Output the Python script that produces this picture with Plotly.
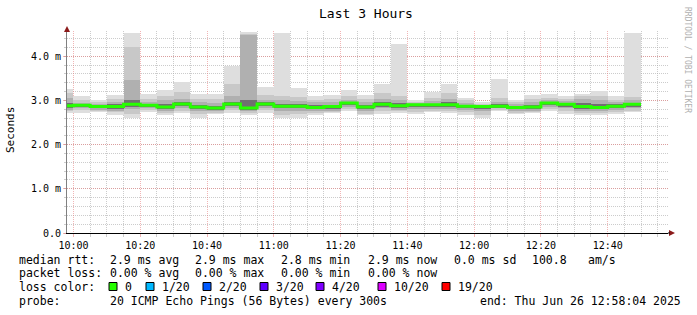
import plotly.graph_objects as go
from datetime import datetime, timedelta

DAY = "2025-06-26"
# 5-minute slot start times (HH:MM)
slot_start = ["09:55", "10:00", "10:05", "10:10", "10:15", "10:20", "10:25", "10:30", "10:35",
              "10:40", "10:45", "10:50", "10:55", "11:00", "11:05", "11:10", "11:15", "11:20",
              "11:25", "11:30", "11:35", "11:40", "11:45", "11:50", "11:55", "12:00", "12:05",
              "12:10", "12:15", "12:20", "12:25", "12:30", "12:35", "12:40", "12:45"]

# RTT distribution per slot (ms)
rtt_max = [3.25, 3.10, 3.02, 3.13, 4.53, 3.15, 3.23, 3.41, 3.15, 3.15, 3.77, 4.53, 3.31, 4.53, 3.29, 3.10, 3.13, 3.23,
           3.13, 3.36, 4.27, 3.02, 3.18, 3.36, 3.06, 2.95, 3.49, 3.02, 3.13, 3.15, 3.11, 3.15, 3.21, 3.09, 4.53]
rtt_p90 = [3.17, 3.00, 2.96, 3.04, 4.21, 3.03, 3.10, 3.20, 3.04, 3.03, 3.36, 4.52, 3.12, 3.10, 3.08, 3.02, 3.03, 3.10,
           3.03, 3.16, 3.10, 2.98, 3.05, 3.16, 3.00, 2.92, 3.06, 2.97, 3.03, 3.06, 3.04, 3.10, 3.10, 3.02, 3.08]
rtt_p75 = [3.05, 2.95, 2.92, 2.97, 3.47, 2.96, 3.00, 3.04, 2.96, 2.95, 3.10, 4.50, 3.01, 3.00, 2.98, 2.96, 2.96, 3.02,
           2.96, 3.03, 3.00, 2.95, 2.98, 3.04, 2.95, 2.90, 2.97, 2.92, 2.96, 3.01, 2.98, 3.04, 3.00, 2.96, 3.00]
rtt_p60 = [2.95, 2.92, 2.88, 2.91, 3.02, 2.92, 2.92, 2.96, 2.90, 2.88, 2.97, 3.00, 2.96, 2.92, 2.91, 2.90, 2.90, 2.98,
           2.90, 2.96, 2.93, 2.92, 2.94, 2.96, 2.91, 2.88, 2.91, 2.87, 2.90, 2.97, 2.94, 2.95, 2.92, 2.91, 2.95]
rtt_median = [2.88, 2.89, 2.86, 2.86, 2.91, 2.89, 2.85, 2.92, 2.85, 2.83, 2.92, 2.83, 2.92, 2.87, 2.87, 2.84, 2.86, 2.94,
              2.85, 2.91, 2.88, 2.90, 2.90, 2.90, 2.87, 2.86, 2.87, 2.84, 2.85, 2.94, 2.91, 2.86, 2.84, 2.87, 2.91]
rtt_p40 = [2.84, 2.86, 2.83, 2.82, 2.86, 2.86, 2.81, 2.88, 2.81, 2.80, 2.88, 2.79, 2.88, 2.82, 2.82, 2.81, 2.82, 2.90,
           2.80, 2.87, 2.84, 2.86, 2.86, 2.86, 2.83, 2.82, 2.85, 2.81, 2.81, 2.90, 2.87, 2.82, 2.81, 2.83, 2.87]
rtt_p25 = [2.80, 2.83, 2.80, 2.78, 2.80, 2.83, 2.77, 2.83, 2.76, 2.77, 2.83, 2.76, 2.83, 2.76, 2.76, 2.77, 2.78, 2.85,
           2.75, 2.82, 2.80, 2.80, 2.82, 2.81, 2.78, 2.76, 2.83, 2.77, 2.78, 2.86, 2.82, 2.77, 2.77, 2.79, 2.82]
rtt_p10 = [2.76, 2.79, 2.76, 2.73, 2.70, 2.79, 2.73, 2.77, 2.69, 2.73, 2.78, 2.72, 2.78, 2.68, 2.69, 2.72, 2.75, 2.80,
           2.71, 2.76, 2.76, 2.74, 2.78, 2.76, 2.73, 2.68, 2.80, 2.73, 2.75, 2.82, 2.76, 2.72, 2.73, 2.74, 2.78]
rtt_min = [2.72, 2.72, 2.74, 2.68, 2.60, 2.75, 2.69, 2.72, 2.61, 2.70, 2.72, 2.67, 2.72, 2.60, 2.61, 2.67, 2.72, 2.75,
           2.67, 2.70, 2.72, 2.69, 2.74, 2.72, 2.69, 2.60, 2.78, 2.70, 2.72, 2.78, 2.70, 2.67, 2.69, 2.70, 2.75]

y_tickvals = [0, 1, 2, 3, 4]
y_ticktext = ["0.0", "1.0 m", "2.0 m", "3.0 m", "4.0 m"]

legend_rows = [
    ["median rtt:", "2.9 ms avg", "2.9 ms max", "2.8 ms min", "2.9 ms now", "0.0 ms sd", "100.8", "am/s"],
    ["packet loss:", "0.00 % avg", "0.00 % max", "0.00 % min", "0.00 % now"],
]
loss_labels = ["0", "1/20", "2/20", "3/20", "4/20", "10/20", "19/20"]
loss_colors = ["#26ff00", "#00b8ff", "#0059ff", "#5e00ff", "#7e00ff", "#dd00ff", "#ff0000"]
probe_text = "20 ICMP Echo Pings (56 Bytes) every 300s"
end_text = "end: Thu Jun 26 12:58:04 2025"

# ---------------------------------------------------------------
MONO = "DejaVu Sans Mono"
W, H = 697, 315
L, R, T, B = 67, 29, 31, 82
PW, PH = W - L - R, H - T - B


def PX(px):
    return (px - L) / PW


def PY(py):
    return (H - B - py) / PH


starts = [datetime.strptime(DAY + " " + s, "%Y-%m-%d %H:%M") for s in slot_start]
step = timedelta(minutes=5)
centers = [s + step / 2 for s in starts]

fig = go.Figure()
bands = [
    (rtt_min, rtt_p10, "#dedede"),
    (rtt_p10, rtt_p25, "#c8c8c8"),
    (rtt_p25, rtt_p40, "#acacac"),
    (rtt_p40, rtt_median, "#707070"),
    (rtt_median, rtt_p60, "#707070"),
    (rtt_p60, rtt_p75, "#b0b0b0"),
    (rtt_p75, rtt_p90, "#c8c8c8"),
    (rtt_p90, rtt_max, "#dedede"),
]
for lo, hi, col in bands:
    fig.add_trace(go.Bar(
        x=centers, base=lo, y=[h - l for l, h in zip(lo, hi)],
        width=[step.total_seconds() * 1000] * len(centers),
        marker=dict(color=col, line=dict(width=0)),
        hoverinfo="skip", showlegend=False,
    ))

fig.add_trace(go.Scatter(
    x=starts + [starts[-1] + step], y=rtt_median + [rtt_median[-1]],
    mode="lines", line=dict(color=loss_colors[0], width=3, shape="hv"),
    hoverinfo="skip", showlegend=False,
))

major_grid = "rgba(230,120,120,0.55)"
minor_grid = "rgba(170,170,170,0.6)"
fig.update_layout(
    width=W, height=H, autosize=False,
    margin=dict(l=L, r=R, t=T, b=B, pad=0),
    paper_bgcolor="white", plot_bgcolor="white",
    barmode="overlay", bargap=0,
    font=dict(family=MONO, size=10, color="black"),
    title=dict(text="Last 3 Hours", x=366 / W, xanchor="center",
               y=1 - 13 / H, yanchor="middle", yref="container",
               font=dict(family=MONO, size=13, color="black")),
    xaxis=dict(
        type="date",
        range=[DAY + " 09:58:04", DAY + " 12:58:04"],
        tick0=DAY + " 10:00", dtick=20 * 60 * 1000, tickformat="%H:%M",
        showgrid=True, gridcolor=major_grid, griddash="1px,1px", gridwidth=1,
        ticks="outside", ticklen=3, tickcolor=major_grid,
        minor=dict(tick0=DAY + " 10:00", dtick=5 * 60 * 1000, showgrid=True,
                   gridcolor=minor_grid, griddash="1px,1px", ticks="outside",
                   ticklen=3, tickcolor=minor_grid),
        showline=True, linecolor="black", linewidth=1, zeroline=False,
        tickfont=dict(family=MONO, size=10, color="black"),
        fixedrange=True,
    ),
    yaxis=dict(
        range=[0, 4.57],
        tickvals=y_tickvals, ticktext=y_ticktext,
        showgrid=True, gridcolor=major_grid, griddash="1px,1px", gridwidth=1,
        ticks="outside", ticklen=3, tickcolor=major_grid,
        minor=dict(tick0=0, dtick=0.2, showgrid=True, gridcolor=minor_grid,
                   griddash="1px,1px", ticks="outside", ticklen=2, tickcolor=minor_grid),
        showline=True, linecolor="#808080", linewidth=1, zeroline=False,
        tickfont=dict(family=MONO, size=10, color="black"),
        fixedrange=True,
    ),
)

ann = []
shapes = []
# Y axis title
ann.append(dict(text="Seconds", x=PX(10), y=PY(130), xref="paper", yref="paper",
                textangle=-90, showarrow=False, xanchor="center", yanchor="middle",
                font=dict(family=MONO, size=11, color="black")))
# watermark
ann.append(dict(text="RRDTOOL / TOBI OETIKER", x=PX(688), y=PY(60), xref="paper", yref="paper",
                textangle=90, showarrow=False, xanchor="center", yanchor="middle",
                font=dict(family=MONO, size=8, color="#b0b0b0")))

row_y = [259.5, 273, 286.5, 300.5]
row_x = [16.7, 108, 193, 279, 366, 452, 530, 586]
lfont = dict(family=MONO, size=11.5, color="black")
for r, items in enumerate(legend_rows):
    for i, t in enumerate(items):
        ann.append(dict(text=t, x=PX(row_x[i]), y=PY(row_y[r]), xref="paper", yref="paper",
                        showarrow=False, xanchor="left", yanchor="middle", font=lfont))
ann.append(dict(text="loss color:", x=PX(16.7), y=PY(row_y[2]), xref="paper", yref="paper",
                showarrow=False, xanchor="left", yanchor="middle", font=lfont))
box_x = [109, 146, 203, 260, 316, 378, 442]
for bx, lab, col in zip(box_x, loss_labels, loss_colors):
    shapes.append(dict(type="rect", xref="paper", yref="paper",
                       x0=PX(bx), x1=PX(bx + 8), y0=PY(row_y[2] + 4), y1=PY(row_y[2] - 4),
                       fillcolor=col, line=dict(color="black", width=1)))
    ann.append(dict(text=lab, x=PX(bx + 14), y=PY(row_y[2]), xref="paper", yref="paper",
                    showarrow=False, xanchor="left", yanchor="middle", font=lfont))
ann.append(dict(text="probe:", x=PX(16.7), y=PY(row_y[3]), xref="paper", yref="paper",
                showarrow=False, xanchor="left", yanchor="middle", font=lfont))
ann.append(dict(text=probe_text, x=PX(108), y=PY(row_y[3]), xref="paper", yref="paper",
                showarrow=False, xanchor="left", yanchor="middle", font=lfont))
ann.append(dict(text=end_text, x=PX(478), y=PY(row_y[3]), xref="paper", yref="paper",
                showarrow=False, xanchor="left", yanchor="middle", font=lfont))

# axis arrows
arrow_col = "#8b1a1a"
shapes.append(dict(type="path", xref="paper", yref="paper",
                   path=f"M {PX(67)} {PY(26)} L {PX(64)} {PY(32)} L {PX(70)} {PY(32)} Z",
                   fillcolor=arrow_col, line=dict(color=arrow_col, width=0)))
shapes.append(dict(type="path", xref="paper", yref="paper",
                   path=f"M {PX(675)} {PY(233)} L {PX(669)} {PY(230)} L {PX(669)} {PY(236)} Z",
                   fillcolor=arrow_col, line=dict(color=arrow_col, width=0)))
shapes.append(dict(type="line", xref="paper", yref="paper",
                   x0=PX(668), x1=PX(670), y0=PY(233), y1=PY(233),
                   line=dict(color="black", width=1)))

fig.update_layout(annotations=ann, shapes=shapes)
fig.write_html("out.html")
